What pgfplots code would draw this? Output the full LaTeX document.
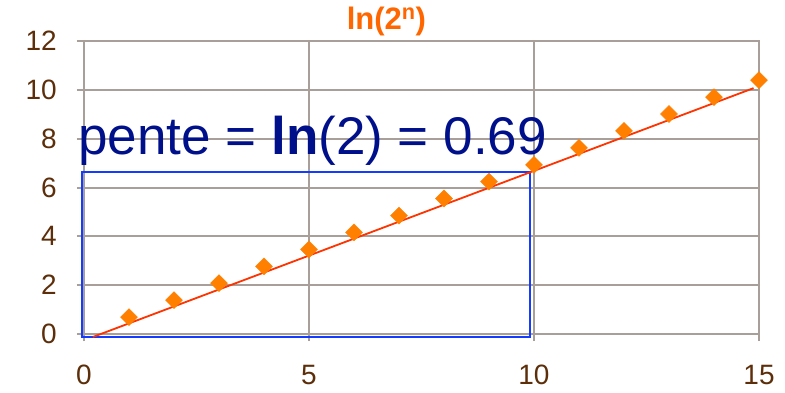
\documentclass[border=0pt]{standalone}
\usepackage{fontspec}
\setmainfont{Liberation Sans}
\usepackage{pgfplots}
\pgfplotsset{compat=1.18}
\definecolor{gridc}{RGB}{168,158,154}
\definecolor{tickc}{RGB}{92,46,10}
\definecolor{markc}{RGB}{255,128,0}
\definecolor{linec}{RGB}{255,51,0}
\definecolor{boxc}{RGB}{20,60,255}
\definecolor{textc}{RGB}{0,16,138}
\definecolor{titlec}{RGB}{255,102,0}
\begin{document}
\begin{tikzpicture}
\useasboundingbox (0,0) rectangle (785pt,392pt);
\begin{axis}[
  at={(84pt,58pt)}, anchor=south west,
  scale only axis, width=675pt, height=293pt,
  xmin=0, xmax=15, ymin=0, ymax=12,
  xtick={0,5,10,15}, ytick={0,2,...,12},
  grid=major,
  grid style={draw=gridc, line width=2pt},
  axis line style={draw=gridc, line width=2pt},
  tick style={draw=gridc, line width=2pt},
  major tick length=7pt,
  tick align=outside,
  xtick pos=left, ytick pos=left,
  /pgf/number format/assume math mode=true,
  ticklabel style={font=\fontsize{28}{28}\selectfont, text=tickc, inner sep=0pt},
  yticklabel style={anchor=east, xshift=-20pt},
  xticklabel style={anchor=base, yshift=-43pt},
  title={\textbf{ln(2\textsuperscript{n})}},
  title style={at={(0.448,1)}, anchor=base, yshift=6pt, inner sep=0pt,
    text=titlec, font=\fontsize{31}{31}\selectfont},
  clip=false,
]
% frame marking the first ten steps
\addplot[draw=boxc, line width=2pt] coordinates {(-0.05,-0.11) (9.9,-0.11) (9.9,6.65) (-0.05,6.65)} -- cycle;
% fitted line, slope ln(2)
\addplot[draw=linec, line width=1.8pt] coordinates {(0.2,-0.12) (14.88,10.07)};
% ln(2^n) for n = 1..15
\addplot[only marks, mark=square*, mark size=6pt,
  mark options={rotate=45, fill=markc, draw=markc}] table {
n v
1 0.69
2 1.39
3 2.08
4 2.77
5 3.47
6 4.16
7 4.85
8 5.55
9 6.24
10 6.93
11 7.62
12 8.32
13 9.01
14 9.70
15 10.40
};
\node[anchor=base west, inner sep=0pt, text=textc, font=\fontsize{53}{53}\selectfont]
  at (axis cs:-0.13,7.34) {pente = \textbf{ln}(2) = 0.69};
\end{axis}
\end{tikzpicture}
\end{document}
